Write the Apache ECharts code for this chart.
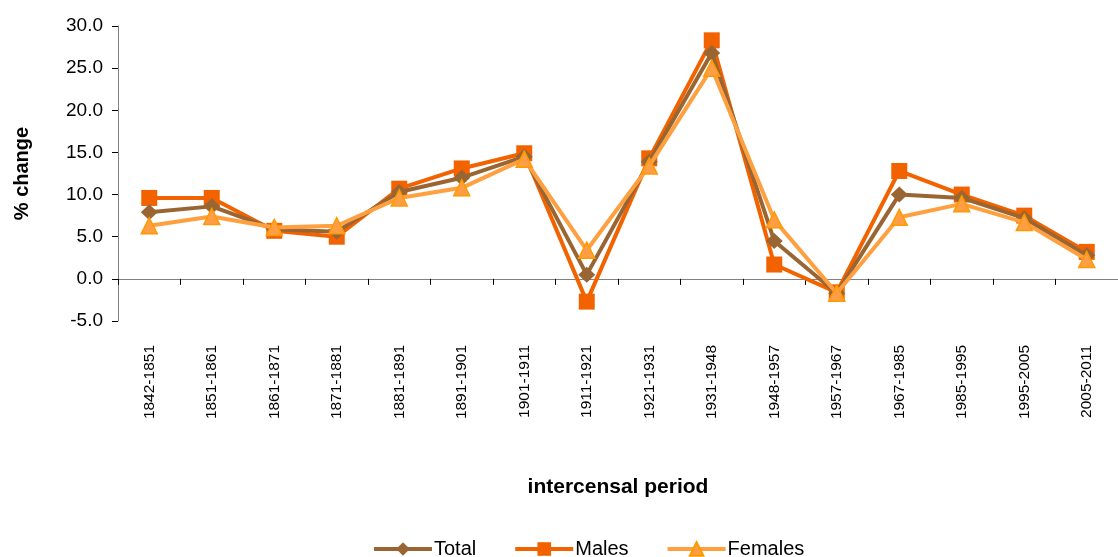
<!DOCTYPE html>
<html>
<head>
<meta charset="utf-8">
<script src="https://cdn.jsdelivr.net/npm/echarts@6/dist/echarts.min.js"></script>
<style>html,body{margin:0;padding:0;background:#fff}#c{width:1118px;height:557px}</style>
</head>
<body>
<div id="c"></div>
<script>
var categories = ['1842-1851','1851-1861','1861-1871','1871-1881','1881-1891','1891-1901','1901-1911','1911-1921','1921-1931','1931-1948','1948-1957','1957-1967','1967-1985','1985-1995','1995-2005','2005-2011'];
var totalValues   = [7.9, 8.6, 5.9, 5.6, 10.3, 12.0, 14.5, 0.5, 13.9, 26.8, 4.5, -1.7, 10.0, 9.6, 7.2, 2.8];
var malesValues   = [9.6, 9.6, 5.7, 5.0, 10.7, 13.1, 14.9, -2.7, 14.3, 28.3, 1.7, -1.6, 12.8, 10.0, 7.5, 3.2];
var femalesValues = [6.3, 7.4, 6.1, 6.3, 9.6, 10.8, 14.2, 3.4, 13.4, 25.0, 7.0, -1.7, 7.3, 8.9, 6.7, 2.3];
var yTicks = {min: -5, max: 30, interval: 5};

var font = 'Liberation Sans, Arial, sans-serif';
var chart = echarts.init(document.getElementById('c'));
chart.setOption({
  animation: false,
  backgroundColor: '#fff',
  textStyle: {fontFamily: font, color: '#000'},
  grid: {left: 118, top: 26, right: -11, bottom: 236, containLabel: false},
  legend: {
    data: ['Total', 'Males', 'Females'],
    top: 539, left: 372, padding: 0,
    itemWidth: 58, itemHeight: 17, itemGap: 37,
    lineStyle: {width: 4},
    textStyle: {fontSize: 20, color: '#000', fontFamily: font, padding: [0, 0, 0, -3]}
  },
  xAxis: [{
    type: 'category', data: categories, boundaryGap: true,
    axisLine: {onZero: true, lineStyle: {color: '#808080', width: 1}},
    axisTick: {show: true, interval: 0, length: 6, lineStyle: {color: '#000'}},
    axisLabel: {show: false},
    splitLine: {show: false}
  }, {
    type: 'category', data: categories, boundaryGap: true, position: 'bottom',
    axisLine: {show: false, onZero: false},
    axisTick: {show: false},
    axisLabel: {show: true, interval: 0, rotate: 90, margin: 24, fontSize: 15.5, color: '#000', fontFamily: font},
    name: 'intercensal period', nameLocation: 'middle', nameGap: 156,
    nameTextStyle: {fontSize: 21, fontWeight: 'bold', color: '#000', fontFamily: font}
  }],
  yAxis: {
    type: 'value', min: yTicks.min, max: yTicks.max, interval: yTicks.interval,
    axisLine: {show: true, lineStyle: {color: '#808080'}},
    axisTick: {show: true, length: 6, lineStyle: {color: '#000'}},
    splitLine: {show: false},
    axisLabel: {fontSize: 19, color: '#000', margin: 15, fontFamily: font, formatter: function (v) { return v.toFixed(1); }},
    name: '% change', nameLocation: 'middle', nameGap: 86,
    nameTextStyle: {fontSize: 20, fontWeight: 'bold', color: '#000', fontFamily: font}
  },
  series: [{
    name: 'Total', type: 'line', data: totalValues, xAxisIndex: 0, z: 3,
    symbol: 'diamond', symbolSize: [17, 16], showAllSymbol: true,
    lineStyle: {color: '#996633', width: 4},
    itemStyle: {color: '#996633', borderColor: '#996633', borderWidth: 0}
  }, {
    name: 'Males', type: 'line', data: malesValues, xAxisIndex: 0, z: 2,
    symbol: 'rect', symbolSize: 16, showAllSymbol: true,
    lineStyle: {color: '#F26300', width: 4},
    itemStyle: {color: '#F26300', borderColor: '#F26300', borderWidth: 0}
  }, {
    name: 'Females', type: 'line', data: femalesValues, xAxisIndex: 0, z: 4,
    symbol: 'triangle', symbolSize: 16, showAllSymbol: true,
    lineStyle: {color: '#FFA040', width: 4},
    itemStyle: {color: '#FF9E44', borderColor: '#FF9900', borderWidth: 1.5}
  }]
});
</script>
</body>
</html>
